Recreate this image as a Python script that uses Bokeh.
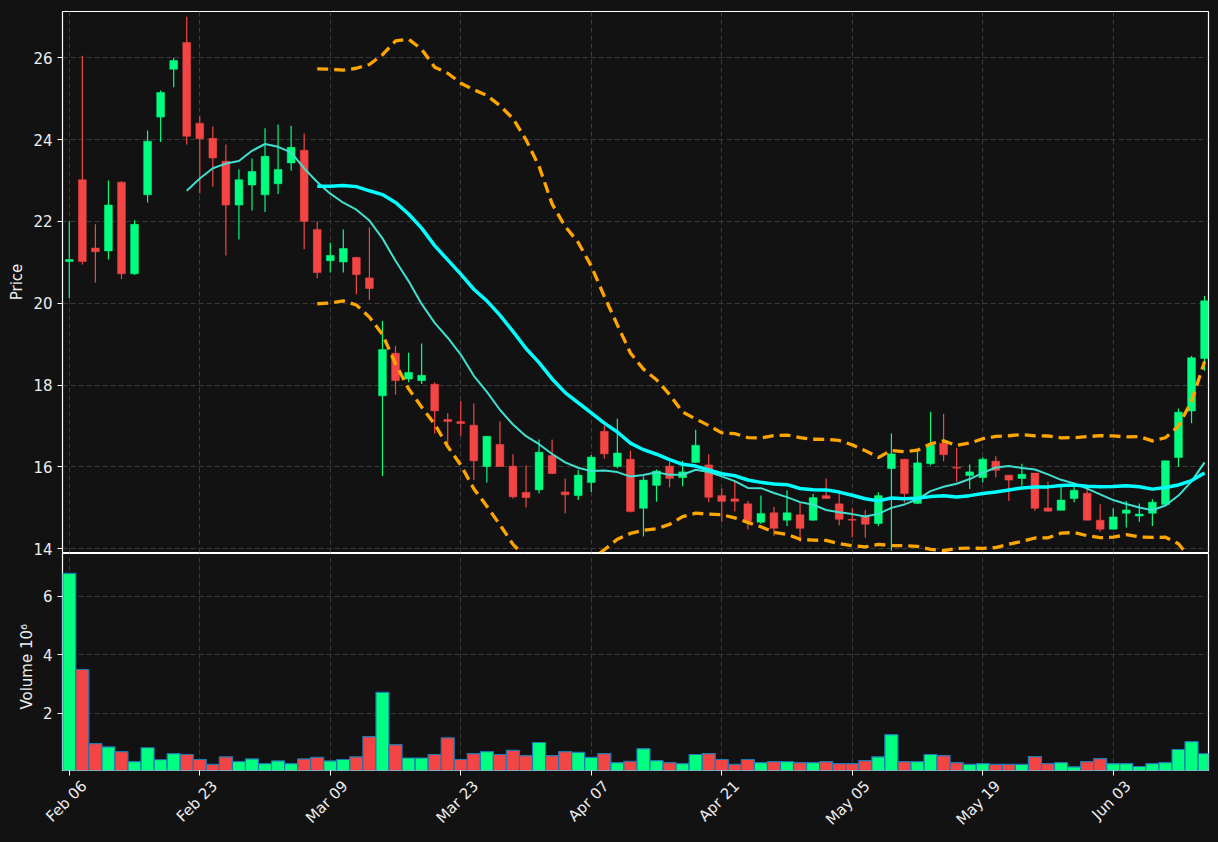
import math
import numpy as np
import pandas as pd
from bokeh.plotting import figure
from bokeh.layouts import column
from bokeh.models import ColumnDataSource, FixedTicker, Range1d
from bokeh.embed import file_html
from bokeh.resources import INLINE

# ---------------- data ----------------
dates = pd.bdate_range("2026-02-06", "2026-06-12", freq="C",
                       holidays=["2026-02-16", "2026-04-03", "2026-05-25"])

opens = [21.02, 23.02, 21.35, 21.28, 22.96, 20.72, 22.65, 24.55, 25.72, 26.37,
         24.40, 24.03, 23.47, 22.40, 22.89, 22.65, 22.92, 23.43, 23.74, 21.80,
         21.04, 21.01, 21.12, 20.62, 17.74, 18.78, 18.15, 18.11, 18.02, 17.16,
         17.11, 17.02, 16.01, 16.55, 16.02, 15.38, 15.44, 16.28, 15.39, 15.30,
         15.62, 16.87, 16.01, 16.19, 14.99, 15.55, 16.02, 15.74, 16.11, 16.05,
         15.30, 15.22, 15.10, 14.65, 14.88, 14.70, 14.83, 14.70, 15.30, 15.10,
         14.72, 14.80, 14.62, 15.96, 16.19, 15.11, 16.08, 16.58, 15.99, 15.79,
         15.74, 16.14, 15.80, 15.72, 15.85, 15.00, 14.94, 15.23, 15.36, 14.70,
         14.48, 14.87, 14.80, 14.87, 15.08, 16.23, 17.37, 18.65]
highs = [22.00, 26.05, 21.93, 23.00, 22.98, 22.03, 24.22, 25.20, 26.00, 27.00,
         24.57, 24.32, 23.88, 23.27, 23.54, 24.28, 24.37, 24.34, 24.15, 22.00,
         21.48, 21.80, 21.14, 21.85, 19.57, 18.96, 18.79, 19.02, 18.07, 17.31,
         17.61, 17.55, 16.75, 17.11, 16.31, 16.04, 16.67, 16.67, 15.72, 15.93,
         16.29, 17.01, 17.18, 16.40, 15.77, 15.94, 16.12, 16.15, 16.91, 16.31,
         15.48, 15.64, 15.17, 15.30, 15.02, 15.43, 15.13, 15.34, 15.72, 15.35,
         15.00, 14.95, 15.38, 16.82, 16.20, 16.39, 17.35, 17.30, 16.47, 16.06,
         16.24, 16.26, 15.80, 16.08, 15.85, 15.64, 15.51, 15.51, 15.46, 15.09,
         14.99, 15.17, 15.11, 15.21, 16.16, 17.43, 18.71, 20.18]
lows = [20.12, 20.95, 20.51, 21.07, 20.59, 20.69, 22.46, 23.94, 25.28, 23.88,
        22.68, 22.85, 21.17, 21.56, 22.27, 22.23, 22.67, 23.24, 21.32, 20.61,
        20.75, 20.75, 20.22, 20.08, 15.78, 17.77, 18.07, 18.03, 16.82, 16.56,
        16.76, 15.68, 15.62, 16.01, 15.23, 15.01, 15.35, 15.82, 14.87, 15.19,
        15.39, 16.21, 15.97, 14.89, 14.30, 15.15, 15.50, 15.53, 16.10, 15.14,
        14.66, 14.91, 14.47, 14.61, 14.32, 14.56, 14.17, 14.69, 15.23, 14.57,
        14.28, 14.27, 14.56, 13.95, 15.13, 15.09, 16.04, 16.14, 15.64, 15.46,
        15.62, 15.75, 15.17, 15.54, 14.93, 14.91, 14.94, 15.14, 14.70, 14.42,
        14.48, 14.52, 14.66, 14.56, 15.08, 16.00, 17.07, 18.35]
closes = [21.07, 21.02, 21.26, 22.40, 20.72, 21.93, 23.96, 25.15, 25.93, 24.08,
          24.02, 23.55, 22.40, 23.02, 23.22, 23.59, 23.27, 23.81, 22.00, 20.75,
          21.17, 21.34, 20.70, 20.36, 18.87, 18.11, 18.31, 18.24, 17.37, 17.11,
          17.06, 16.15, 16.75, 16.01, 15.27, 15.25, 16.36, 15.84, 15.32, 15.80,
          16.24, 16.32, 16.34, 14.91, 15.68, 15.90, 15.72, 15.88, 16.53, 15.26,
          15.16, 15.16, 14.68, 14.86, 14.50, 14.88, 14.50, 15.25, 15.23, 14.72,
          14.70, 14.60, 15.30, 16.32, 15.35, 16.10, 16.53, 16.30, 15.97, 15.88,
          16.19, 15.92, 15.68, 15.82, 14.99, 14.92, 15.19, 15.43, 14.70, 14.48,
          14.78, 14.95, 14.85, 15.14, 16.15, 17.34, 18.67, 20.06]
volumes = [6.78, 3.50, 0.97, 0.86, 0.70, 0.36, 0.83, 0.42, 0.63, 0.60,
           0.43, 0.26, 0.52, 0.36, 0.45, 0.29, 0.38, 0.29, 0.45, 0.50,
           0.38, 0.43, 0.52, 1.21, 2.72, 0.94, 0.48, 0.48, 0.60, 1.17,
           0.43, 0.63, 0.70, 0.60, 0.74, 0.56, 1.01, 0.56, 0.70, 0.67,
           0.50, 0.63, 0.32, 0.37, 0.80, 0.39, 0.32, 0.29, 0.60, 0.63,
           0.43, 0.26, 0.43, 0.32, 0.36, 0.36, 0.32, 0.32, 0.36, 0.29,
           0.29, 0.39, 0.52, 1.28, 0.36, 0.36, 0.60, 0.56, 0.32, 0.26,
           0.29, 0.26, 0.26, 0.26, 0.53, 0.29, 0.32, 0.18, 0.36, 0.46,
           0.29, 0.29, 0.19, 0.29, 0.32, 0.77, 1.04, 0.63]  # millions

ma_short = 10
ma_long = 20
tick_positions = [0, 10, 20, 30, 40, 50, 60, 70, 80]
price_ticks = [14, 16, 18, 20, 22, 24, 26]
volume_ticks = [2, 4, 6]

# ---------------- styling ----------------
BG = "#121212"
UP = "#00ff80"
DOWN = "#f44545"
GRID = "#3a3a3a"
TXT = "#eeeeee"
FONT = "DejaVu Sans"
TICK_FS = "15px"
LABEL_SHIFT = 1.15   # rotated labels are centred on their tick (in index units)

idx = list(range(len(closes)))
up = [c >= o for o, c in zip(opens, closes)]
colors = [UP if u else DOWN for u in up]
close_s = pd.Series(closes)
ma10 = close_s.rolling(ma_short).mean()
ma20 = close_s.rolling(ma_long).mean()
sd20 = close_s.rolling(ma_long).std(ddof=0)
upper = ma20 + 2 * sd20
lower = ma20 - 2 * sd20

src = ColumnDataSource(dict(
    x=idx, o=opens, h=highs, l=lows, c=closes,
    top=[max(o, c) for o, c in zip(opens, closes)],
    bot=[min(o, c) for o, c in zip(opens, closes)],
    color=colors, vol=volumes,
    ma10=ma10.values, ma20=ma20.values, up_b=upper.values, lo_b=lower.values,
))

xr = Range1d(-0.52, 87.3)

def style(p):
    p.background_fill_color = BG
    p.border_fill_color = BG
    p.outline_line_color = "white"
    p.outline_line_width = 1.2
    p.xgrid.grid_line_color = GRID
    p.ygrid.grid_line_color = GRID
    p.xgrid.grid_line_dash = "5 3"
    p.ygrid.grid_line_dash = "5 3"
    p.xgrid.ticker = FixedTicker(ticks=tick_positions)
    for ax in p.yaxis:
        ax.major_label_text_color = TXT
        ax.major_label_text_font = FONT
        ax.major_label_text_font_size = TICK_FS
        ax.axis_label_text_color = TXT
        ax.axis_label_text_font = FONT
        ax.axis_label_text_font_size = "15px"
        ax.axis_label_text_font_style = "normal"
        ax.axis_line_color = None
        ax.major_tick_line_color = "white"
        ax.major_tick_out = 5
        ax.major_tick_in = 0
        ax.minor_tick_line_color = None
        ax.axis_label_standoff = 4

# price panel (bottom border left open so the "14" label is not clipped)
p1 = figure(width=1218, height=561, x_range=xr, y_range=Range1d(13.91, 27.13),
            output_backend="svg", toolbar_location=None,
            min_border_left=62, min_border_right=10, min_border_top=11, min_border_bottom=9)
style(p1)
p1.xaxis.visible = False
p1.yaxis.ticker = FixedTicker(ticks=price_ticks)
p1.yaxis.axis_label = "Price"
p1.ygrid.ticker = FixedTicker(ticks=price_ticks)

p1.segment(x0="x", y0="l", x1="x", y1="h", color="color", line_width=1.2, source=src)
p1.vbar(x="x", width=0.6, top="top", bottom="bot", fill_color="color",
        line_color="color", line_width=0.5, source=src)
p1.line("x", "ma10", source=src, color="#40e0d0", line_width=2)
p1.line("x", "ma20", source=src, color="#00ffff", line_width=3.5)
p1.line("x", "up_b", source=src, color="#ffa500", line_width=3.3, line_dash="11 6")
p1.line("x", "lo_b", source=src, color="#ffa500", line_width=3.3, line_dash="11 6")

# volume panel
vmin = 0.3 * min(volumes)
vmax = 1.1 * max(volumes)
p2 = figure(width=1218, height=290, x_range=xr, y_range=Range1d(vmin, vmax),
            output_backend="svg", toolbar_location=None,
            min_border_left=62, min_border_right=10, min_border_top=1, min_border_bottom=72,
            styles={"margin-top": "-9px"})
style(p2)
p2.background_fill_alpha = 0
p2.border_fill_alpha = 0
p2.yaxis.ticker = FixedTicker(ticks=volume_ticks)
p2.ygrid.ticker = FixedTicker(ticks=volume_ticks)
p2.yaxis.axis_label = "Volume   10\u2076"
p2.vbar(x="x", width=1.0, top="vol", bottom=0, fill_color="color",
        line_color="#1f77b4", line_width=1.2, source=src)

# x axis: tick marks (minor ticks) at the true positions, labels (major ticks)
# shifted so that each rotated label is centred on its tick
label_pos = [t + LABEL_SHIFT for t in tick_positions]
ax = p2.xaxis[0]
ax.ticker = FixedTicker(ticks=label_pos, minor_ticks=tick_positions)
ax.major_label_overrides = {lp: dates[t].strftime("%b %d")
                            for lp, t in zip(label_pos, tick_positions)}
ax.major_label_orientation = math.pi / 4
ax.major_label_text_color = TXT
ax.major_label_text_font = FONT
ax.major_label_text_font_size = TICK_FS
ax.major_label_standoff = 8
ax.axis_line_color = None
ax.major_tick_line_color = None
ax.major_tick_out = 5
ax.major_tick_in = 0
ax.minor_tick_line_color = "white"
ax.minor_tick_out = 5
ax.minor_tick_in = 0

layout = column(p1, p2, spacing=0, styles={"background-color": BG})
html = file_html(layout, INLINE)
html = html.replace("<body>", f'<body style="margin:0;background:{BG};">')
open("out.html", "w").write(html)
